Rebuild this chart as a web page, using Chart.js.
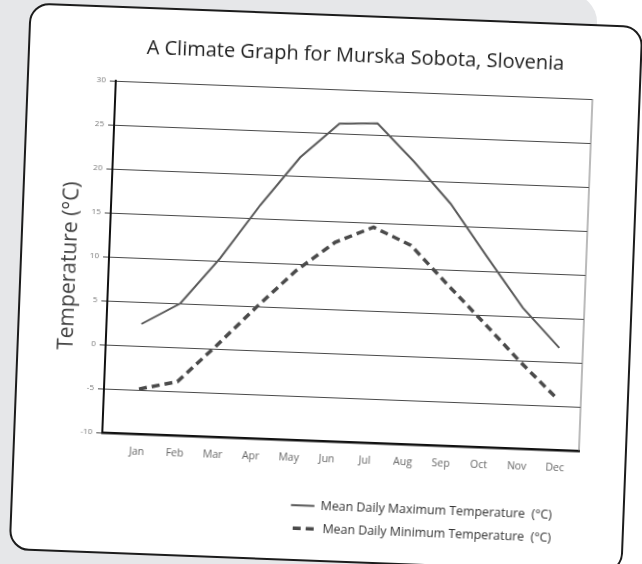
<!DOCTYPE html>
<html>
<head>
<meta charset="utf-8">
<script src="https://cdn.jsdelivr.net/npm/chart.js@4/dist/chart.umd.min.js"></script>
<style>
  html, body { margin: 0; padding: 0; }
  body { width: 642px; height: 564px; overflow: hidden; background: #fff; position: relative; }
  .bg { position: absolute; left: -40px; top: -6px; width: 637px; height: 620px; background: #e6e7e9; border-top-right-radius: 28px; }
  .card { position: absolute; left: 19px; top: 14px; width: 614px; height: 548px; box-sizing: border-box;
          border: 2px solid #1c1c1c; border-radius: 20px; background: #fff; transform: rotate(2.2deg); overflow: hidden; }
  canvas { display: block; }
</style>
</head>
<body>
<div class="bg"></div>
<div class="card"><canvas id="chart" width="610" height="544"></canvas></div>
<script>
const months = ['Jan', 'Feb', 'Mar', 'Apr', 'May', 'Jun', 'Jul', 'Aug', 'Sep', 'Oct', 'Nov', 'Dec'];
const maxTemp = [2.5, 5.0, 10.3, 16.5, 22.1, 26.1, 26.3, 22.1, 17.5, 11.7, 6.0, 1.6];
const minTemp = [-4.9, -3.9, 0.4, 4.9, 9.2, 12.6, 14.5, 12.6, 8.3, 4.1, -0.2, -4.2];
const yMin = -10, yMax = 30, yStep = 5;

Chart.defaults.font.family = "'Open Sans', sans-serif";

// right frame line + nudge legend left a bit
const frame = {
  id: 'frame',
  afterLayout(chart) {
    chart.legend.right -= 14;
  },
  afterDatasetsDraw(chart) {
    const a = chart.chartArea, ctx = chart.ctx;
    ctx.save();
    ctx.strokeStyle = '#777';
    ctx.lineWidth = 1;
    ctx.beginPath();
    ctx.moveTo(a.right, a.top);
    ctx.lineTo(a.right, a.bottom);
    ctx.stroke();
    ctx.restore();
  }
};

new Chart(document.getElementById('chart'), {
  type: 'line',
  data: {
    datasets: [{
      label: 'Mean Daily Maximum Temperature  (°C)',
      data: maxTemp.map((v, i) => ({x: i, y: v})),
      borderColor: '#5a5a5a',
      backgroundColor: 'transparent',
      borderWidth: 2,
      pointRadius: 0
    }, {
      label: 'Mean Daily Minimum Temperature  (°C)',
      data: minTemp.map((v, i) => ({x: i, y: v})),
      borderColor: '#4a4a4a',
      backgroundColor: 'transparent',
      borderWidth: 3.5,
      borderDash: [8, 5],
      pointRadius: 0
    }]
  },
  options: {
    responsive: false,
    animation: false,
    layout: { padding: { top: 12, left: 31.4, right: 46, bottom: 14.5 } },
    scales: {
      x: {
        type: 'linear',
        min: -0.92,
        max: 11.62,
        afterBuildTicks: s => { s.ticks = months.map((m, i) => ({value: i})); },
        afterFit: s => { s.height = 48.5; },
        grid: { display: false, drawTicks: false },
        border: { display: true, color: '#111', width: 2.5 },
        ticks: { callback: v => months[v], color: '#666', font: { size: 10.5 }, padding: 12, maxRotation: 0 }
      },
      y: {
        min: yMin,
        max: yMax,
        afterFit: s => { s.width = 55.6; },
        grid: { color: '#4a4a4a', lineWidth: 1, tickLength: 6 },
        border: { display: true, color: '#111', width: 2 },
        ticks: { stepSize: yStep, color: '#777', font: { size: 8 }, padding: 4 },
        title: { display: true, text: 'Temperature (°C)\u2003', color: '#444', font: { size: 21 }, padding: { top: 4, bottom: 4 } }
      }
    },
    plugins: {
      title: {
        display: true,
        text: 'A Climate Graph for Murska Sobota, Slovenia',
        fullSize: false,
        color: '#222',
        font: { size: 20, weight: 'normal' },
        padding: { top: 15, bottom: 22 }
      },
      legend: {
        position: 'bottom',
        align: 'end',
        fullSize: false,
        labels: { color: '#333', font: { size: 12.4 }, boxWidth: 23.5, boxHeight: 0, padding: 10.6 }
      },
      tooltip: { enabled: false }
    }
  },
  plugins: [frame]
});
</script>
</body>
</html>
